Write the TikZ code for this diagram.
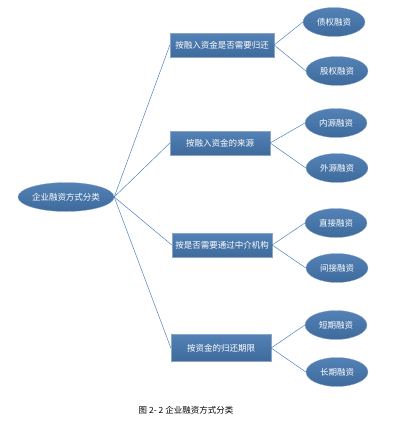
\documentclass[tikz,border=0pt]{standalone}
\usepackage{fontspec}
\setmainfont{Noto Sans CJK SC}
\usetikzlibrary{shapes.geometric}
\definecolor{boxblue}{RGB}{62,106,156}
\definecolor{boxtop}{RGB}{84,130,182}
\definecolor{linkblue}{RGB}{79,129,189}
\tikzset{
  catbox/.style={rectangle, top color=boxtop, bottom color=boxblue, draw=boxblue!60!white, line width=0.3pt,
    text=white, font=\fontsize{8.5}{10}\selectfont, minimum width=100pt, minimum height=24pt, inner sep=1pt},
  leaf/.style={ellipse, top color=boxtop, bottom color=boxblue, draw=boxblue!60!white, line width=0.3pt,
    text=white, font=\fontsize{8.5}{10}\selectfont, minimum width=62pt, minimum height=29pt, inner sep=0pt},
  link/.style={draw=linkblue, line width=0.5pt}
}
\begin{document}
\begin{tikzpicture}[x=1pt, y=-1pt]
    \useasboundingbox (0,0) rectangle (410,421);
    % root
    \node[leaf, minimum width=86pt, minimum height=29pt] (root) at (66, 197) {企业融资方式分类};
    % categories
    \node[catbox, minimum width=104pt] (repay) at (222, 45) {按融入资金是否需要归还};
    \node[catbox] (source) at (220, 143) {按融入资金的来源};
    \node[catbox] (agent) at (222, 245) {按是否需要通过中介机构};
    \node[catbox, minimum height=27pt] (term) at (221, 348) {按资金的归还期限};
    % leaves
    \node[leaf] (debt) at (334, 22) {债权融资};
    \node[leaf] (equity) at (337, 71) {股权融资};
    \node[leaf] (inner) at (336, 123) {内源融资};
    \node[leaf] (outer) at (337, 168) {外源融资};
    \node[leaf] (direct) at (336, 223) {直接融资};
    \node[leaf] (indirect) at (337, 268) {间接融资};
    \node[leaf] (short) at (336, 325) {短期融资};
    \node[leaf] (long) at (337, 372) {长期融资};
    % caption
    \node[font=\fontsize{8.5}{10}\selectfont] (cap) at (186, 410) {图 2- 2 企业融资方式分类};
    % connectors
    \draw[link] (root.east) -- (repay.west);
    \draw[link] (root.east) -- (source.west);
    \draw[link] (root.east) -- (agent.west);
    \draw[link] (root.east) -- (term.west);
    \draw[link] (repay.east) -- (debt.west);
    \draw[link] (repay.east) -- (equity.west);
    \draw[link] (source.east) -- (inner.west);
    \draw[link] (source.east) -- (outer.west);
    \draw[link] (agent.east) -- (direct.west);
    \draw[link] (agent.east) -- (indirect.west);
    \draw[link] (term.east) -- (short.west);
    \draw[link] (term.east) -- (long.west);
\end{tikzpicture}
\end{document}
